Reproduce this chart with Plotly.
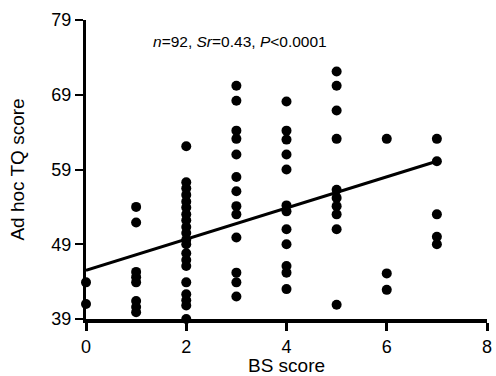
import plotly.graph_objects as go

# BS score (x) and Ad hoc TQ score (y) for each visible dot
col0_y = [43.9, 41.0]
col1_y = [54.0, 51.9, 45.3, 44.6, 43.9, 41.4, 40.6, 39.9]
col2_y = [62.1, 57.3, 56.5, 55.6, 54.7, 53.9, 53.0, 52.2, 51.3, 50.5, 49.6, 49.0,
          47.8, 46.9, 46.1, 43.9, 42.3, 41.5, 40.8, 39.0]
col3_y = [70.2, 68.2, 64.2, 63.1, 61.0, 58.0, 56.1, 54.1, 53.0, 49.9, 45.2, 43.9, 42.0]
col4_y = [68.1, 64.2, 63.0, 61.0, 59.0, 54.2, 53.4, 51.0, 49.0, 46.1, 45.2, 43.0]
col5_y = [72.1, 70.2, 66.9, 63.1, 56.3, 55.2, 54.1, 53.0, 51.0, 40.9]
col6_y = [63.1, 45.1, 42.9]
col7_y = [63.1, 60.1, 53.0, 50.0, 49.0]

columns = [col0_y, col1_y, col2_y, col3_y, col4_y, col5_y, col6_y, col7_y]
bs_scores = [0, 1, 2, 3, 4, 5, 6, 7]

# regression line end points
fit_x = [0, 7]
fit_y = [45.5, 60.1]

x_ticks = [0, 2, 4, 6, 8]
y_ticks = [39, 49, 59, 69, 79]

xs, ys = [], []
for bs, col in zip(bs_scores, columns):
    for v in col:
        xs.append(bs)
        ys.append(v)

FONT = "Liberation Sans, Arial, sans-serif"

fig = go.Figure()
fig.add_trace(go.Scatter(
    x=xs, y=ys, mode="markers",
    marker=dict(size=10, color="black"),
    cliponaxis=False, showlegend=False,
))
fig.add_trace(go.Scatter(
    x=fit_x, y=fit_y, mode="lines",
    line=dict(color="black", width=3),
    cliponaxis=False, showlegend=False,
))

fig.update_layout(
    width=496, height=376,
    margin=dict(l=86, r=4, t=20, b=56),
    paper_bgcolor="white", plot_bgcolor="white",
    font=dict(family=FONT, color="black", size=18),
    xaxis=dict(
        range=[0, 8], tickvals=x_ticks, ticktext=[str(t) for t in x_ticks],
        showgrid=False, zeroline=False,
        showline=True, linecolor="black", linewidth=4,
        ticks="outside", ticklen=8, tickwidth=3, tickcolor="black",
        tickfont=dict(size=18), ticklabeloverflow="allow",
        title=dict(text="BS score", font=dict(size=19), standoff=2),
    ),
    yaxis=dict(
        range=[39, 79], tickvals=y_ticks, ticktext=[str(t) for t in y_ticks],
        showgrid=False, zeroline=False,
        showline=True, linecolor="black", linewidth=3,
        ticks="outside", ticklen=8, tickwidth=2, tickcolor="black",
        tickfont=dict(size=18), ticklabeloverflow="allow",
        title=dict(text="Ad hoc TQ score", font=dict(size=19), standoff=22),
    ),
    annotations=[dict(
        xref="paper", yref="paper", x=0.1626, y=0.927,
        xanchor="left", yanchor="middle", showarrow=False,
        text="<i>n</i>=92, <i>Sr</i>=0.43, <i>P</i>&lt;0.0001",
        font=dict(size=15.5, family=FONT),
    )],
)

fig.write_html(
    "out.html",
    config={"displayModeBar": False},
    post_script="document.body.style.margin='0';document.body.style.overflow='hidden';",
)
